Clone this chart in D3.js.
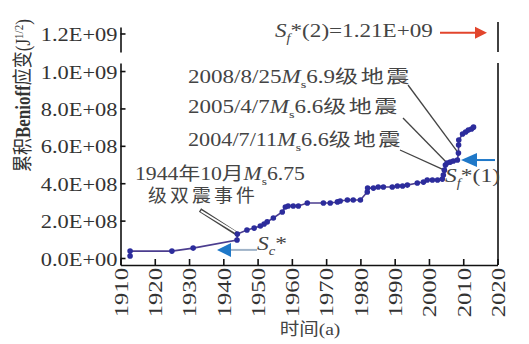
<!DOCTYPE html>
<html>
<head>
<meta charset="utf-8">
<script src="https://cdn.jsdelivr.net/npm/d3@7"></script>
<style>
body { margin: 0; background: #fff; }
text { font-family: "Liberation Serif", "Times New Roman", "Noto Sans CJK SC", serif; }
</style>
</head>
<body>
<div id="chart"></div>
<script>
// Data
const years = [1912.8, 1912.8, 1925.0, 1931.2, 1944.0, 1944.1, 1946.9, 1949.0, 1950.8, 1951.9,
    1952.8, 1954.6, 1957.2, 1958.1, 1958.9, 1960.4, 1961.9, 1964.5, 1969.2, 1971.2,
    1973.3, 1974.1, 1976.2, 1977.9, 1980.0, 1982.0, 1982.1, 1983.8, 1985.2, 1986.7,
    1989.3, 1990.8, 1992.3, 1993.7, 1996.6, 1998.4, 1999.5, 2001.0, 2002.5, 2003.9,
    2004.2, 2004.5, 2004.8, 2005.3, 2006.2, 2007.1, 2008.3, 2008.6, 2008.65, 2008.7,
    2009.8, 2010.7, 2011.5, 2012.4, 2013.0];
const benioff = [1.1e7, 3.7e7, 3.7e7, 5.3e7, 9.6e7, 1.28e8, 1.5e8, 1.6e8, 1.71e8, 1.82e8,
    1.93e8, 2.14e8, 2.46e8, 2.73e8, 2.78e8, 2.78e8, 2.78e8, 2.94e8, 2.94e8, 2.94e8,
    3.0e8, 3.05e8, 3.1e8, 3.1e8, 3.1e8, 3.53e8, 3.74e8, 3.74e8, 3.8e8, 3.8e8,
    3.8e8, 3.85e8, 3.85e8, 3.9e8, 4.01e8, 4.06e8, 4.17e8, 4.17e8, 4.17e8, 4.22e8,
    4.44e8, 4.7e8, 4.97e8, 5.08e8, 5.13e8, 5.19e8, 5.24e8, 5.61e8, 6.04e8, 6.31e8,
    6.63e8, 6.74e8, 6.84e8, 6.9e8, 7.0e8];

const xTickValues = [1910, 1920, 1930, 1940, 1950, 1960, 1970, 1980, 1990, 2000, 2010, 2020];
const yTickLow = [0, 2e8, 4e8, 6e8, 8e8, 1e9];
const yTickHigh = [1.2e9];

// reference levels and marked events
const Sc = 3.8e7;
const Sf1 = 5.24e8;
const Sf2 = 1.21e9;
const events = [
    { year: 2008.6, value: 5.61e8 },
    { year: 2005.3, value: 5.08e8 },
    { year: 2004.5, value: 4.7e8 },
    { year: 1944.1, value: 1.28e8 },
];

// Dimensions
const width = 529, height = 344;
const sx = 1.15; // the scan is a bit stretched sideways

const svg = d3.select('#chart')
    .append('svg')
    .attr('width', width)
    .attr('height', height);

// Scales
const x = d3.scaleLinear().domain([1910, 2020]).range([120.5, 497.5]);
const yLow = d3.scaleLinear().domain([-3.74e7, 1.043e9]).range([265, 63]);
const yHigh = d3.scaleLinear().domain([1.1e9, 1.235e9]).range([52, 27]);

const fmt = v => {
    if (v === 0) return '0.0E+00';
    const e = Math.floor(Math.log10(v));
    return (v / Math.pow(10, e)).toFixed(1) + 'E+' + String(e).padStart(2, '0');
};

// Axes
function styleY(g) {
    g.selectAll('path, line').attr('stroke', '#111').attr('stroke-width', 1.6);
    g.selectAll('text')
        .attr('x', 0).attr('dy', '0.36em')
        .attr('fill', '#333')
        .style('font-size', '19.5px')
        .attr('transform', `translate(-3,0) scale(${sx},1)`);
}

svg.append('g')
    .attr('transform', 'translate(120.5,0)')
    .call(d3.axisLeft(yLow).tickValues(yTickLow).tickFormat(fmt).tickSizeInner(-5).tickSizeOuter(0))
    .call(styleY);

svg.append('g')
    .attr('transform', 'translate(120.5,0)')
    .call(d3.axisLeft(yHigh).tickValues(yTickHigh).tickFormat(fmt).tickSizeInner(-5).tickSizeOuter(0))
    .call(styleY);

const xAxis = svg.append('g')
    .attr('transform', 'translate(0,265)')
    .call(d3.axisBottom(x).tickValues(xTickValues).tickFormat(d3.format('d')).tickSizeInner(-6).tickSizeOuter(0));
xAxis.selectAll('path, line').attr('stroke', '#111').attr('stroke-width', 1.6);
xAxis.selectAll('text')
    .attr('x', 0).attr('y', 0).attr('dy', '0.36em')
    .attr('text-anchor', 'end')
    .attr('fill', '#333')
    .style('font-size', '19px')
    .attr('transform', 'translate(0,3) rotate(-90) scale(1.3,1)');

// right borders
svg.append('line').attr('x1', 498).attr('x2', 498).attr('y1', 63).attr('y2', 265)
    .attr('stroke', '#111').attr('stroke-width', 1.6);
svg.append('line').attr('x1', 498).attr('x2', 498).attr('y1', 22).attr('y2', 52)
    .attr('stroke', '#111').attr('stroke-width', 1.6);

// Axis titles
const yTitle = svg.append('text')
    .attr('transform', 'translate(30,172) rotate(-90) scale(1,1.2)')
    .attr('fill', '#333')
    .style('font-size', '17px');
yTitle.append('tspan').text('累积');
yTitle.append('tspan').style('font-weight', 'bold').text('Benioff');
yTitle.append('tspan').text('应变(J');
yTitle.append('tspan').attr('dy', -6).style('font-size', '11px').text('1/2');
yTitle.append('tspan').attr('dy', 6).text(')');

svg.append('text')
    .attr('transform', `translate(310,335) scale(${sx},1)`)
    .attr('text-anchor', 'middle')
    .attr('fill', '#444')
    .style('font-size', '17px')
    .text('时间(a)');

// Pointer lines
const pointerStarts = [[408, 85], [403, 118], [400, 150], [200, 210]];
events.forEach((ev, i) => {
    const [x0, y0] = pointerStarts[i];
    if (i === 3) {
        svg.append('line').attr('x1', x0).attr('y1', y0).attr('x2', x(ev.year)).attr('y2', yLow(ev.value))
            .attr('stroke', '#444').attr('stroke-width', 4);
        svg.append('line').attr('x1', x0 + 1).attr('y1', y0 + 1).attr('x2', x(ev.year) - 2).attr('y2', yLow(ev.value) - 2)
            .attr('stroke', '#fff').attr('stroke-width', 1.8);
    } else {
        svg.append('line').attr('x1', x0).attr('y1', y0).attr('x2', x(ev.year)).attr('y2', yLow(ev.value))
            .attr('stroke', '#444').attr('stroke-width', 1.3);
    }
});

// Series
const points = years.map((d, i) => ({ year: d, value: benioff[i] }));
const line = d3.line().x(d => x(d.year)).y(d => yLow(d.value));

svg.append('path')
    .datum(points)
    .attr('d', line)
    .attr('fill', 'none')
    .attr('stroke', '#4b3d8f')
    .attr('stroke-width', 1.6);

svg.append('g')
    .selectAll('circle')
    .data(points)
    .join('circle')
    .attr('cx', d => x(d.year))
    .attr('cy', d => yLow(d.value))
    .attr('r', 2.8)
    .attr('fill', '#2c2c9c');

// Arrows
function arrow(x1, x2, y, color, lineColor, headLen, headHalf) {
    const dir = Math.sign(x2 - x1);
    svg.append('line').attr('x1', x1).attr('x2', x2 - dir * headLen).attr('y1', y).attr('y2', y)
        .attr('stroke', lineColor).attr('stroke-width', 2);
    svg.append('path')
        .attr('d', `M${x2},${y}L${x2 - dir * headLen},${y - headHalf}L${x2 - dir * headLen},${y + headHalf}Z`)
        .attr('fill', color);
}
arrow(257, 217, yLow(Sc) - 1, '#1f78c8', '#9fb3c8', 14, 7);
arrow(495, 461, yLow(Sf1), '#1f78c8', '#1f78c8', 16, 7);
arrow(440, 487, yHigh(Sf2) + 1, '#e2452c', '#e2452c', 12, 6);

// Annotations
function rich(xp, yp, w, parts, size, color) {
    const t = svg.append('text')
        .attr('fill', color || '#444')
        .style('font-size', (size || 18) + 'px');
    let shift = 0;
    parts.forEach(p => {
        const s = p.sub ? 5 : 0;
        const ts = t.append('tspan').text(p.t).attr('dy', s - shift);
        shift = s;
        if (p.i) ts.style('font-style', 'italic');
        if (p.sub) ts.style('font-size', '0.62em');
        if (p.ls) ts.attr('letter-spacing', p.ls);
    });
    const n = t.node().getComputedTextLength();
    t.attr('transform', `translate(${xp},${yp}) scale(${w / n},1)`);
    return t;
}

rich(188, 83, 224, [{ t: '2008/8/25' }, { t: 'M', i: true }, { t: 's', sub: true }, { t: '6.9' }, { t: '级地震', ls: 2 }]);
rich(188, 113, 212, [{ t: '2005/4/7' }, { t: 'M', i: true }, { t: 's', sub: true }, { t: '6.6' }, { t: '级地震', ls: 2 }]);
rich(188, 146, 215, [{ t: '2004/7/11' }, { t: 'M', i: true }, { t: 's', sub: true }, { t: '6.6' }, { t: '级地震', ls: 2 }]);
rich(135, 180, 170, [{ t: '1944年10月' }, { t: 'M', i: true }, { t: 's', sub: true }, { t: '6.75' }]);
rich(148, 202, 110, [{ t: '级双震事件', ls: 3 }]);
rich(257, 250, 30, [{ t: 'S', i: true }, { t: 'c', i: true, sub: true }, { t: '*' }], 19);
rich(445, 182, 55, [{ t: 'S', i: true }, { t: 'f', i: true, sub: true }, { t: '*(1)' }], 19);
rich(275, 37, 158, [{ t: 'S', i: true }, { t: 'f', i: true, sub: true }, { t: '*(2)=1.21E+09' }], 19);
</script>
</body>
</html>
